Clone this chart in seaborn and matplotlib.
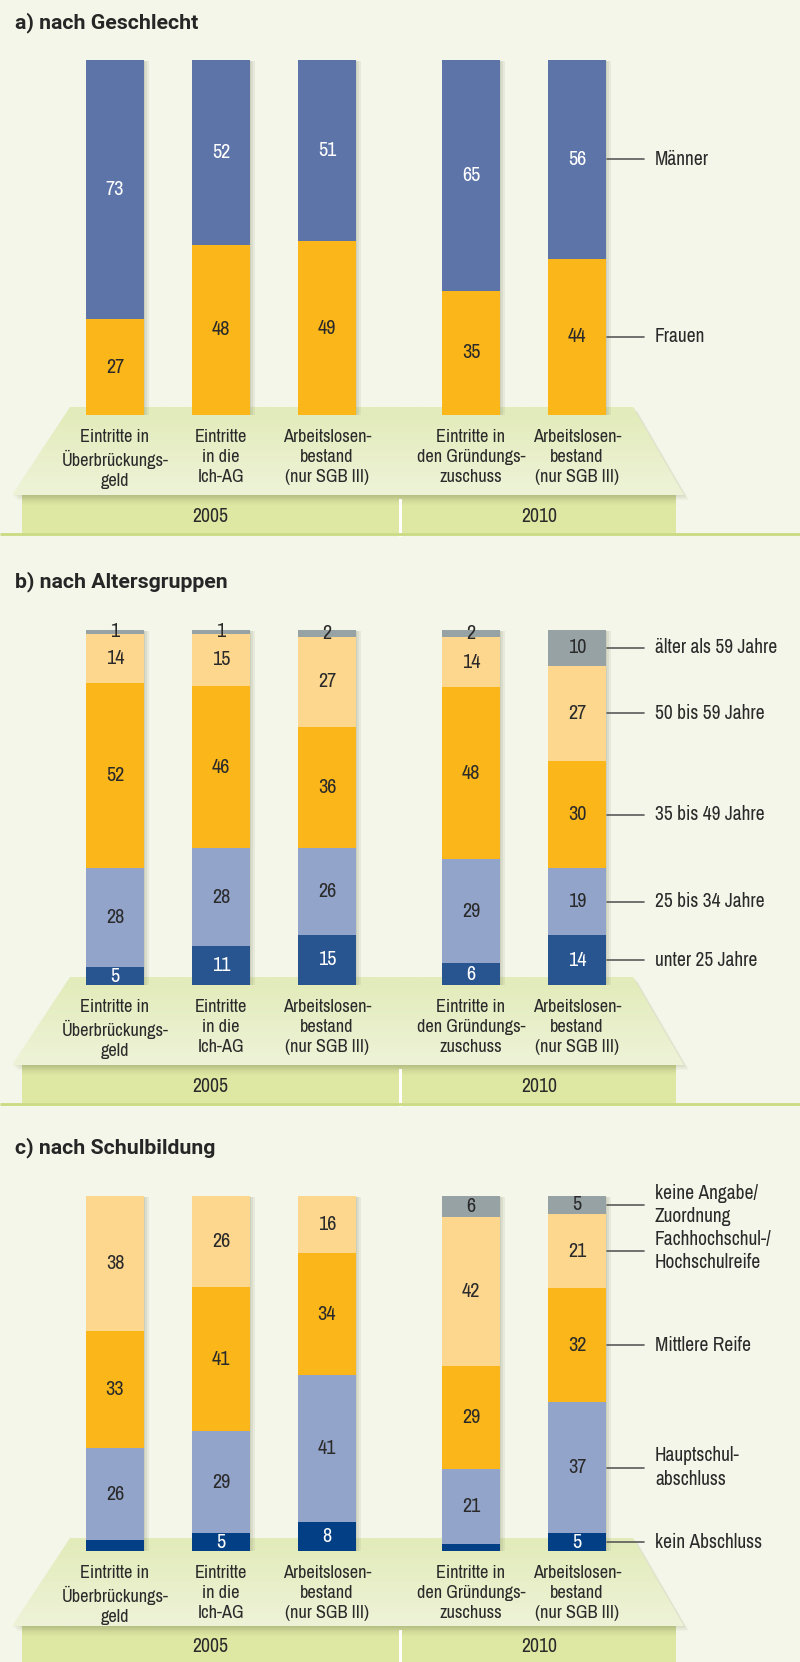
import numpy as np
import pandas as pd
import matplotlib
matplotlib.use("Agg")
import matplotlib.pyplot as plt
import seaborn as sns
from matplotlib import font_manager as fm
from matplotlib.patches import Polygon, Rectangle
import matplotlib.patheffects as pe

sns.set_theme(style="white")
_fl = fm.fontManager.ttflist
_avail = {f.name for f in _fl}
FONT, STRETCH = None, "normal"
for f in _fl:
    if ("Narrow" in f.name or "Condensed" in f.name) and f.style == "normal":
        FONT, STRETCH = f.name, f.stretch
        break
if FONT is None:
    for f in _fl:
        if f.name in ("Noto Sans", "Open Sans", "Roboto") and f.stretch in ("semi-condensed", "condensed") \
                and f.style == "normal":
            FONT, STRETCH = f.name, f.stretch
            break
if FONT is None:
    FONT = next(f for f in ["Roboto", "DejaVu Sans"] if f in _avail)
TITLE_FONT = next(f for f in ["Roboto", "DejaVu Sans"] if f in _avail)
plt.rcParams["font.family"] = [FONT, "DejaVu Sans"]
plt.rcParams["font.stretch"] = STRETCH

# ---------------- data ----------------
categories_2005 = ["Eintritte in\nÜberbrückungs-\ngeld", "Eintritte\nin die\nIch-AG",
                   "Arbeitslosen-\nbestand\n(nur SGB III)"]
categories_2010 = ["Eintritte in\nden Gründungs-\nzuschuss", "Arbeitslosen-\nbestand\n(nur SGB III)"]
years = ["2005", "2010"]

# a) nach Geschlecht (bottom -> top)
geschlecht_series = ["Frauen", "Männer"]
frauen = [27, 48, 49, 35, 44]
maenner = [73, 52, 51, 65, 56]

# b) nach Altersgruppen (bottom -> top)
alter_series = ["unter 25 Jahre", "25 bis 34 Jahre", "35 bis 49 Jahre",
                "50 bis 59 Jahre", "älter als 59 Jahre"]
unter_25 = [5, 11, 15, 6, 14]
alter_25_34 = [28, 28, 26, 29, 19]
alter_35_49 = [52, 46, 36, 48, 30]
alter_50_59 = [14, 15, 27, 14, 27]
ueber_59 = [1, 1, 2, 2, 10]

# c) nach Schulbildung (bottom -> top)
schul_series = ["kein Abschluss", "Hauptschul-\nabschluss", "Mittlere Reife",
                "Fachhochschul-/\nHochschulreife", "keine Angabe/\nZuordnung"]
kein_abschluss = [3, 5, 8, 2, 5]
hauptschulabschluss = [26, 29, 41, 21, 37]
mittlere_reife = [33, 41, 34, 29, 32]
hochschulreife = [38, 26, 16, 42, 21]
keine_angabe = [0, 0, 0, 6, 5]

# ---------------- style ----------------
BG = "#f4f6e9"
TXT = "#2a2a2a"
ORANGE = "#fbb71a"
LIGHT_OR = "#fed78f"
LAVENDER = "#93a4cb"
GRAY = "#97a2a5"

panels = [
    dict(title="a) nach Geschlecht", title_y=23, top=60, bottom=415,
         trap_top=407, trap_bot=495, year_bot=533, year_y=517,
         series=geschlecht_series, values=[frauen, maenner],
         colors=[ORANGE, "#5d74a8"], tcolors=[TXT, "white"], min_label=0.5),
    dict(title="b) nach Altersgruppen", title_y=582, top=630, bottom=985,
         trap_top=977, trap_bot=1065, year_bot=1103, year_y=1087,
         series=alter_series, values=[unter_25, alter_25_34, alter_35_49, alter_50_59, ueber_59],
         colors=["#28558f", LAVENDER, ORANGE, LIGHT_OR, GRAY],
         tcolors=["white", TXT, TXT, TXT, TXT], min_label=0.5),
    dict(title="c) nach Schulbildung", title_y=1148, top=1196, bottom=1551,
         trap_top=1538, trap_bot=1626, year_bot=1664, year_y=1646,
         series=schul_series, values=[kein_abschluss, hauptschulabschluss, mittlere_reife,
                                      hochschulreife, keine_angabe],
         colors=["#023f84", LAVENDER, ORANGE, LIGHT_OR, GRAY],
         tcolors=["white", TXT, TXT, TXT, TXT], min_label=4),
]

W, H = 800, 1662
fig = plt.figure(figsize=(W / 100, H / 100), dpi=100, facecolor=BG)

bg = fig.add_axes([0, 0, 1, 1], zorder=0)
bg.set_xlim(0, W)
bg.set_ylim(H, 0)
bg.axis("off")
bg.set_facecolor(BG)

FS = 13.2
BAR_W = 0.54
groups = [(categories_2005, 62, 318, slice(0, 3)), (categories_2010, 418, 212, slice(3, 5))]


def vgrad(ax, x0, x1, y0, y1, c_top, c_bot, clip=None, z=1):
    ct = np.array(matplotlib.colors.to_rgb(c_top))
    cb = np.array(matplotlib.colors.to_rgb(c_bot))
    t = np.linspace(0, 1, 64)[:, None, None]
    img = ct * (1 - t) + cb * t
    im = ax.imshow(img, extent=(x0, x1, y1, y0), aspect="auto", zorder=z, interpolation="bilinear")
    if clip is not None:
        im.set_clip_path(clip)
    return im


for P in panels:
    bg.text(15, P["title_y"], P["title"], fontsize=15.3, fontweight="bold", color="#262626",
            va="center", ha="left", family=[TITLE_FONT, "DejaVu Sans"], fontstretch="normal")
    tt, tb, yb = P["trap_top"], P["trap_bot"], P["year_bot"]
    bg.add_patch(Rectangle((22, tb), 654, yb - tb, facecolor="#dfe8a2", edgecolor="none", zorder=1))
    for k in range(10):
        bg.add_patch(Rectangle((22, tb), 654, 10 - k, facecolor="#9aa36a", alpha=0.035,
                               edgecolor="none", zorder=1.1))
    bg.add_patch(Rectangle((399, tb + 4), 3, yb - tb, facecolor="white", edgecolor="none", zorder=1.2))
    for k in range(1, 6):
        sh = Polygon([(70 + k, tt + k), (633 + k, tt + k), (684 + k, tb + k), (12 + k, tb + k)],
                     closed=True, facecolor="#8f9868", alpha=0.05, edgecolor="none", zorder=1.3)
        bg.add_patch(sh)
    trap = Polygon([(70, tt), (633, tt), (684, tb), (12, tb)], closed=True,
                   facecolor="none", edgecolor="none", transform=bg.transData)
    bg.add_patch(trap)
    vgrad(bg, 12, 684, tt, tb, "#e2ebb9", "#eef3d8", clip=trap, z=1.4)
    if P["year_bot"] < H:
        bg.plot([0, W], [yb + 0.5, yb + 0.5], color="#c9db80", lw=2, zorder=1.5,
                solid_capstyle="butt")
    for yr, xc in zip(years, [210, 539]):
        bg.text(xc, P["year_y"], yr, fontsize=FS + 1.0, color=TXT, ha="center", va="center", zorder=3)

    vals = np.array(P["values"], dtype=float)
    shares = vals / vals.sum(axis=0) * 100.0
    cum = np.cumsum(shares, axis=0)
    n = vals.shape[0]

    for cats, x0, wpx, sl in groups:
        ax = fig.add_axes([x0 / W, (H - P["bottom"]) / H, wpx / W, (P["bottom"] - P["top"]) / H],
                          zorder=2)
        ax.patch.set_alpha(0)
        for k in range(n - 1, -1, -1):
            df = pd.DataFrame({"Kategorie": cats, "Anteil": cum[k, sl]})
            n_before = len(ax.patches)
            sns.barplot(data=df, x="Kategorie", y="Anteil", order=cats, color=P["colors"][k],
                        saturation=1, width=BAR_W, ax=ax, linewidth=0)
            if k == n - 1:
                for p in ax.patches[n_before:]:
                    p.set_path_effects([
                        pe.SimplePatchShadow(offset=(4, -1), shadow_rgbFace="#7d8466", alpha=0.10),
                        pe.SimplePatchShadow(offset=(2.5, -1), shadow_rgbFace="#7d8466", alpha=0.12),
                        pe.SimplePatchShadow(offset=(1.2, -0.5), shadow_rgbFace="#7d8466", alpha=0.15),
                        pe.Normal()])
        ax.set_xlim(-0.5, len(cats) - 0.5)
        ax.set_ylim(0, 100)
        ax.set_xlabel("")
        ax.set_ylabel("")
        ax.set_yticks([])
        for s in ax.spines.values():
            s.set_visible(False)
        ax.tick_params(axis="x", length=0, pad=10, labelsize=FS, labelcolor=TXT)
        for lab in ax.get_xticklabels():
            lab.set_linespacing(1.3)
            lab.set_va("top")
        for j, gj in enumerate(range(5)[sl]):
            for k in range(n):
                v = vals[k, gj]
                if v < P["min_label"]:
                    continue
                yc = cum[k, gj] - shares[k, gj] / 2
                ax.text(j, yc, f"{int(v)}", ha="center", va="center", fontsize=FS + 1.4,
                        color=P["tcolors"][k], zorder=5)
        if cats is categories_2010:
            j = len(cats) - 1
            for k in range(n):
                if vals[k, 4] <= 0:
                    continue
                yc = cum[k, 4] - shares[k, 4] / 2
                ax.plot([j + 0.285, j + 0.63], [yc, yc], color="#5a5a5a", lw=1.2, clip_on=False)
                ax.text(j + 0.735, yc, P["series"][k], ha="left", va="center", fontsize=FS + 0.8,
                        color=TXT, linespacing=1.3, clip_on=False)

fig.savefig("out.png", dpi=100, facecolor=BG)
